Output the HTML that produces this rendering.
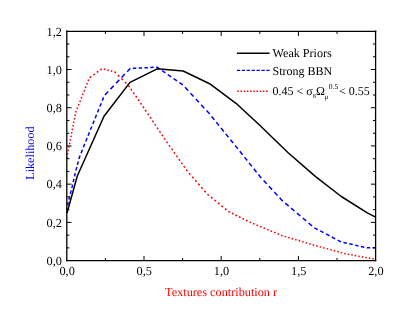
<!DOCTYPE html>
<html><head><meta charset="utf-8"><style>
html,body{margin:0;padding:0;background:#fff;}
svg{display:block;will-change:transform;opacity:0.999}
text{font-family:"Liberation Serif",serif;text-rendering:geometricPrecision;}
</style></head><body>
<svg width="408" height="322" viewBox="0 0 408 322">

<g fill="none" stroke-linejoin="round">
<path d="M66.70 158.00L66.98 156.59M67.38 154.58L67.67 153.08M68.07 151.07L68.37 149.57M68.76 147.57L69.06 146.07M69.46 144.06L69.76 142.56M70.15 140.55L70.45 139.05M70.85 137.04L71.14 135.54M71.54 133.53L71.84 132.03M72.23 130.03L72.53 128.53M72.93 126.52L73.23 125.02M73.62 123.01L73.92 121.51M74.32 119.50L74.61 118.00M75.01 115.99L75.31 114.49M75.70 112.49L75.90 111.50L76.11 110.99M76.93 108.98L77.55 107.48M78.37 105.47L78.99 103.97M79.81 101.96L80.00 101.50L80.41 100.46M81.19 98.45L81.78 96.95M82.57 94.95L83.15 93.45M83.94 91.44L84.53 89.94M85.31 87.93L85.90 86.43M86.69 84.42L87.27 82.92M88.06 80.91L88.65 79.41M89.79 77.56L91.29 76.46M93.30 74.99L94.80 73.89M96.81 72.41L98.31 71.31M100.32 69.84L101.82 68.73M103.83 69.08L105.33 69.48M107.33 70.01L108.83 70.40M110.84 70.93L112.34 71.33M114.35 71.86L114.90 72.00L115.85 72.95M117.86 74.96L119.36 76.46M121.37 78.47L122.87 79.97M124.87 81.97L126.37 83.47M128.38 85.48L128.60 85.70L129.49 86.98M130.87 88.99L131.91 90.49M133.30 92.50L134.33 94.00M135.72 96.01L136.76 97.51M138.14 99.51L139.18 101.01M140.55 103.02L141.57 104.52M142.92 106.53L143.93 108.03M145.29 110.04L146.30 111.54M147.65 113.55L148.66 115.05M150.02 117.05L151.03 118.55M152.38 120.56L153.39 122.06M154.75 124.07L155.76 125.57M157.11 127.58L158.12 129.08M159.48 131.09L160.49 132.59M161.84 134.59L162.85 136.09M164.21 138.10L165.22 139.60M166.58 141.61L167.63 143.11M169.04 145.12L170.09 146.62M171.50 148.63L172.55 150.13M173.96 152.13L175.01 153.63M176.42 155.64L177.48 157.14M178.88 159.15L179.94 160.65M181.35 162.66L182.40 164.16M183.81 166.17L184.86 167.67M186.27 169.67L187.20 171.00L187.35 171.17M189.10 173.18L190.41 174.68M192.17 176.69L193.48 178.19M195.23 180.20L196.54 181.70M198.29 183.71L199.60 185.21M201.35 187.21L202.66 188.71M204.41 190.72L205.72 192.22M207.48 194.23L207.80 194.60L208.93 195.52M210.94 197.16L212.44 198.39M214.45 200.03L215.95 201.25M217.95 202.89L219.45 204.11M221.46 205.75L222.96 206.98M224.97 208.62L226.47 209.84M228.48 211.48L228.50 211.50L229.98 212.24M231.99 213.23L233.49 213.98M235.49 214.98L236.99 215.73M239.00 216.73L240.50 217.47M242.51 218.47L244.01 219.22M246.02 220.22L247.52 220.96M249.53 221.96L250.00 222.20L251.03 222.63M253.03 223.47L254.53 224.10M256.54 224.94L258.04 225.57M260.05 226.41L261.55 227.04M263.56 227.88L265.06 228.51M267.07 229.35L268.57 229.97M270.57 230.82L272.07 231.44M274.08 232.28L275.58 232.91M277.59 233.75L279.09 234.38M281.10 235.22L282.00 235.60L282.60 235.78M284.61 236.38L286.11 236.83M288.11 237.43L289.61 237.88M291.62 238.49L293.12 238.94M295.13 239.54L296.63 239.99M298.64 240.59L300.14 241.04M302.15 241.64L303.65 242.09M305.65 242.70L307.15 243.15M309.16 243.75L310.66 244.20M312.67 244.80L314.00 245.20L314.17 245.25M316.18 245.79L317.68 246.20M319.69 246.75L321.19 247.15M323.19 247.70L324.69 248.11M326.70 248.65L328.20 249.06M330.21 249.61L331.71 250.01M333.72 250.56L335.22 250.97M337.23 251.51L338.73 251.92M340.73 252.47L342.23 252.88M344.24 253.42L345.74 253.83M347.75 254.22L349.25 254.49M351.26 254.85L352.76 255.13M354.77 255.49L356.27 255.76M358.27 256.13L359.77 256.40M361.78 256.76L363.28 257.04M365.29 257.40L366.79 257.67M368.80 258.04L370.30 258.31M372.31 258.67L373.81 258.95" stroke="#ff0000" stroke-width="1.5"/>
<path d="M66.80 209.50L67.09 207.89M67.53 205.47L67.80 204.00L68.28 202.07M68.89 199.65L69.74 196.25M70.34 193.84L71.19 190.44M71.80 188.02L72.65 184.62M73.19 182.20L73.94 178.80M74.48 176.38L75.24 172.98M75.87 170.56L76.78 167.16M77.43 164.75L78.34 161.35M78.98 158.93L79.50 157.00L80.09 155.53M81.06 153.11L82.42 149.71M83.38 147.29L84.74 143.89M85.71 141.47L86.30 140.00L87.08 138.07M88.06 135.66L89.44 132.26M90.42 129.84L91.80 126.44M92.78 124.02L94.16 120.62M95.14 118.20L96.52 114.80M97.50 112.38L98.87 108.98M99.85 106.57L101.23 103.17M102.21 100.75L103.59 97.35M104.94 94.93L108.19 91.53M110.50 89.11L113.75 85.71M116.06 83.29L119.31 79.89M121.62 77.48L124.87 74.08M127.18 71.66L130.20 68.50L130.44 68.49M132.86 68.37L136.26 68.21M138.68 68.09L142.08 67.93M144.50 67.81L147.90 67.65M150.31 67.53L153.71 67.37M156.13 67.25L157.20 67.20L159.53 68.82M161.95 70.50L165.35 72.86M167.77 74.54L171.17 76.91M173.59 78.59L176.99 80.95M179.40 82.63L182.80 84.99M185.06 87.32L188.19 90.72M190.42 93.14L193.56 96.54M195.79 98.96L198.93 102.36M201.16 104.78L204.30 108.18M206.53 110.59L209.30 113.60L209.62 113.99M211.58 116.41L214.34 119.81M216.30 122.23L219.05 125.63M221.01 128.05L223.77 131.45M225.73 133.87L228.49 137.27M230.45 139.68L233.20 143.08M235.16 145.50L237.89 148.90M239.82 151.32L242.55 154.72M244.49 157.14L247.21 160.54M249.15 162.96L251.87 166.36M253.81 168.77L256.53 172.17M258.47 174.59L260.00 176.50L261.37 177.99M263.60 180.41L266.73 183.81M268.95 186.23L272.08 189.63M274.31 192.05L277.44 195.45M279.67 197.86L282.00 200.40L282.86 201.13M285.28 203.19L288.68 206.08M291.10 208.13L294.50 211.02M296.92 213.08L300.32 215.97M302.74 218.03L306.14 220.92M308.55 222.97L311.95 225.86M314.37 227.80L317.77 229.59M320.19 230.87L323.59 232.66M326.01 233.93L329.41 235.73M331.83 237.00L335.23 238.80M337.64 240.07L341.04 241.86M343.46 242.49L346.86 243.26M349.28 243.81L352.68 244.58M355.10 245.13L358.50 245.90M360.92 246.44L364.32 247.21M366.73 247.76L366.90 247.80L370.13 247.80M372.55 247.80L375.60 247.80" stroke="#0000ff" stroke-width="1.5"/>
<polyline points="67.0,213.0 77.3,176.0 104.0,116.3 130.0,82.4 157.2,68.8 183.2,71.0 209.6,83.7 236.0,103.3 260.0,125.5 288.4,153.0 315.6,176.6 341.3,196.5 367.3,212.8 375.6,217.2" stroke="#000" stroke-width="1.5"/>
</g>
<path d="M66.8 30.6V261.3M375.6 30.6V261.3" stroke="#000" stroke-width="1.3" fill="none"/>
<path d="M66.15 31.3H376.25M66.15 260.6H376.25" stroke="#000" stroke-width="1.35" fill="none"/>
<path d="M66.8 247.86h2.6M375.6 247.86h-2.6M66.8 235.12h2.6M375.6 235.12h-2.6M66.8 222.38h4.7M375.6 222.38h-4.7M66.8 209.64h2.6M375.6 209.64h-2.6M66.8 196.91h2.6M375.6 196.91h-2.6M66.8 184.17h4.7M375.6 184.17h-4.7M66.8 171.43h2.6M375.6 171.43h-2.6M66.8 158.69h2.6M375.6 158.69h-2.6M66.8 145.95h4.7M375.6 145.95h-4.7M66.8 133.21h2.6M375.6 133.21h-2.6M66.8 120.47h2.6M375.6 120.47h-2.6M66.8 107.73h4.7M375.6 107.73h-4.7M66.8 94.99h2.6M375.6 94.99h-2.6M66.8 82.26h2.6M375.6 82.26h-2.6M66.8 69.52h4.7M375.6 69.52h-4.7M66.8 56.78h2.6M375.6 56.78h-2.6M66.8 44.04h2.6M375.6 44.04h-2.6M105.40 260.6v-2.6M105.40 31.3v2.6M144.00 260.6v-4.7M144.00 31.3v4.7M182.60 260.6v-2.6M182.60 31.3v2.6M221.20 260.6v-4.7M221.20 31.3v4.7M259.80 260.6v-2.6M259.80 31.3v2.6M298.40 260.6v-4.7M298.40 31.3v4.7M337.00 260.6v-2.6M337.00 31.3v2.6" stroke="#000" stroke-width="1" fill="none"/>
<g font-size="12.3px" fill="#000"><text x="61.9" y="264.8" text-anchor="end">0,0</text><text x="61.9" y="226.6" text-anchor="end">0,2</text><text x="61.9" y="188.4" text-anchor="end">0,4</text><text x="61.9" y="150.1" text-anchor="end">0,6</text><text x="61.9" y="111.9" text-anchor="end">0,8</text><text x="61.9" y="73.7" text-anchor="end">1,0</text><text x="61.9" y="35.5" text-anchor="end">1,2</text><text x="67.1" y="274.7" text-anchor="middle">0,0</text><text x="144.3" y="274.7" text-anchor="middle">0,5</text><text x="221.5" y="274.7" text-anchor="middle">1,0</text><text x="298.7" y="274.7" text-anchor="middle">1,5</text><text x="375.9" y="274.7" text-anchor="middle">2,0</text></g>
<text x="221.1" y="296.4" font-size="12.25px" fill="#ff0000" text-anchor="middle">Textures contribution r</text>
<text transform="translate(34.4,153.1) rotate(-90)" font-size="12.15px" fill="#0000ff" text-anchor="middle">Likelihood</text>
<g fill="none">
<path d="M236.9 53.3H269.6" stroke="#000" stroke-width="1.4"/>
<path d="M236.9 70.4H269.8" stroke="#0000ff" stroke-width="1.4" stroke-dasharray="3.3 1.6"/>
<path d="M237.3 91.3H267.6" stroke="#ff0000" stroke-width="1.4" stroke-dasharray="1.5 1.7"/>
</g>
<g font-size="12px" fill="#000">
<text x="272.6" y="57.2" font-size="12.1px">Weak Priors</text>
<text x="272.6" y="74.5">Strong BBN</text>
<text x="272.6" y="95.3">0.45 &lt; σ<tspan font-size="6.2px" dy="2.6">8</tspan><tspan dy="-2.6">Ω</tspan><tspan font-size="7px" dy="3.2">μ</tspan><tspan font-size="7.6px" dy="-9.4" dx="0.2">0.5</tspan><tspan dy="6.2" dx="0.6">&lt; 0.55</tspan></text>
</g>
</svg>
</body></html>
